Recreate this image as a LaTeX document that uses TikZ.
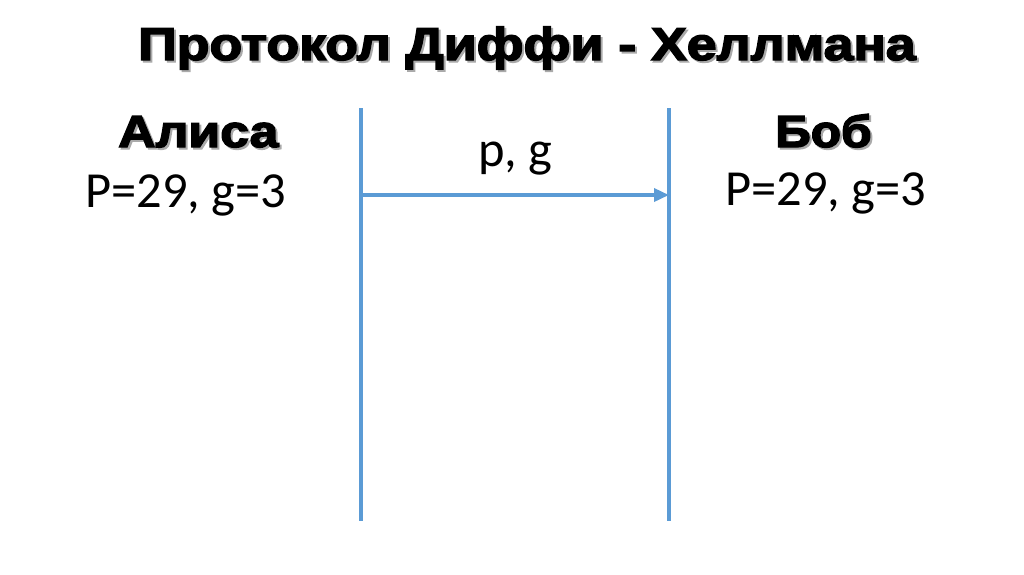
\documentclass[tikz,border=0pt]{standalone}
\usepackage{fontspec}
\setmainfont{Carlito}
\newfontfamily\heavy{Liberation Sans}[UprightFont=* Bold, FakeBold=3]
\usetikzlibrary{arrows.meta}
\definecolor{lineblue}{RGB}{91,155,213}
\definecolor{shadowgray}{RGB}{170,170,170}
\tikzset{
  lifeline/.style={draw=lineblue, line width=3.5pt},
  msg/.style={draw=lineblue, line width=3.5pt, -{Triangle[length=15pt,width=13pt]}},
  titletext/.style={inner sep=0pt, anchor=base west, font=\heavy\fontsize{46}{50}\selectfont},
  nametext/.style={inner sep=0pt, anchor=base west, font=\heavy\fontsize{45}{50}\selectfont},
  valtext/.style={inner sep=0pt, anchor=base west, font=\fontsize{50.5}{56}\selectfont},
  shadow/.style={text=shadowgray}
}
\newcommand{\ttl}{\scalebox{1.165}[1]{Протокол Диффи - Хеллмана}}
\newcommand{\alc}{\scalebox{1.15}[1]{Алиса}}
\newcommand{\bb}{\scalebox{1.1}[1]{Боб}}
\begin{document}
\begin{tikzpicture}[x=1pt,y=-1pt]
\useasboundingbox (0,0) rectangle (1024,574);
% title
\node[titletext, shadow] (titlesh) at (140,62) {\ttl};
\node[titletext] (title) at (138,60) {\ttl};
% names
\node[nametext, shadow] (alicesh) at (120,149) {\alc};
\node[nametext] (alice) at (118,147) {\alc};
\node[nametext, shadow] (bobsh) at (777,149) {\bb};
\node[nametext] (bob) at (775,147) {\bb};
% values
\node[valtext] (aval) at (85,207) {P=29, g=3};
\node[valtext] (bval) at (725,205) {P=29, g=3};
% lifelines
\coordinate (Ltop) at (361,108);
\coordinate (Lbot) at (361,521);
\coordinate (Rtop) at (669,108);
\coordinate (Rbot) at (669,521);
\draw[lifeline] (Ltop) -- (Lbot);
\draw[lifeline] (Rtop) -- (Rbot);
\coordinate (Amsg) at (361,195);
\coordinate (Bmsg) at (669,195);
\draw[msg] (Amsg) -- (Bmsg);
\node[valtext] (pg) at (478,166) {p, g};
\end{tikzpicture}
\end{document}
